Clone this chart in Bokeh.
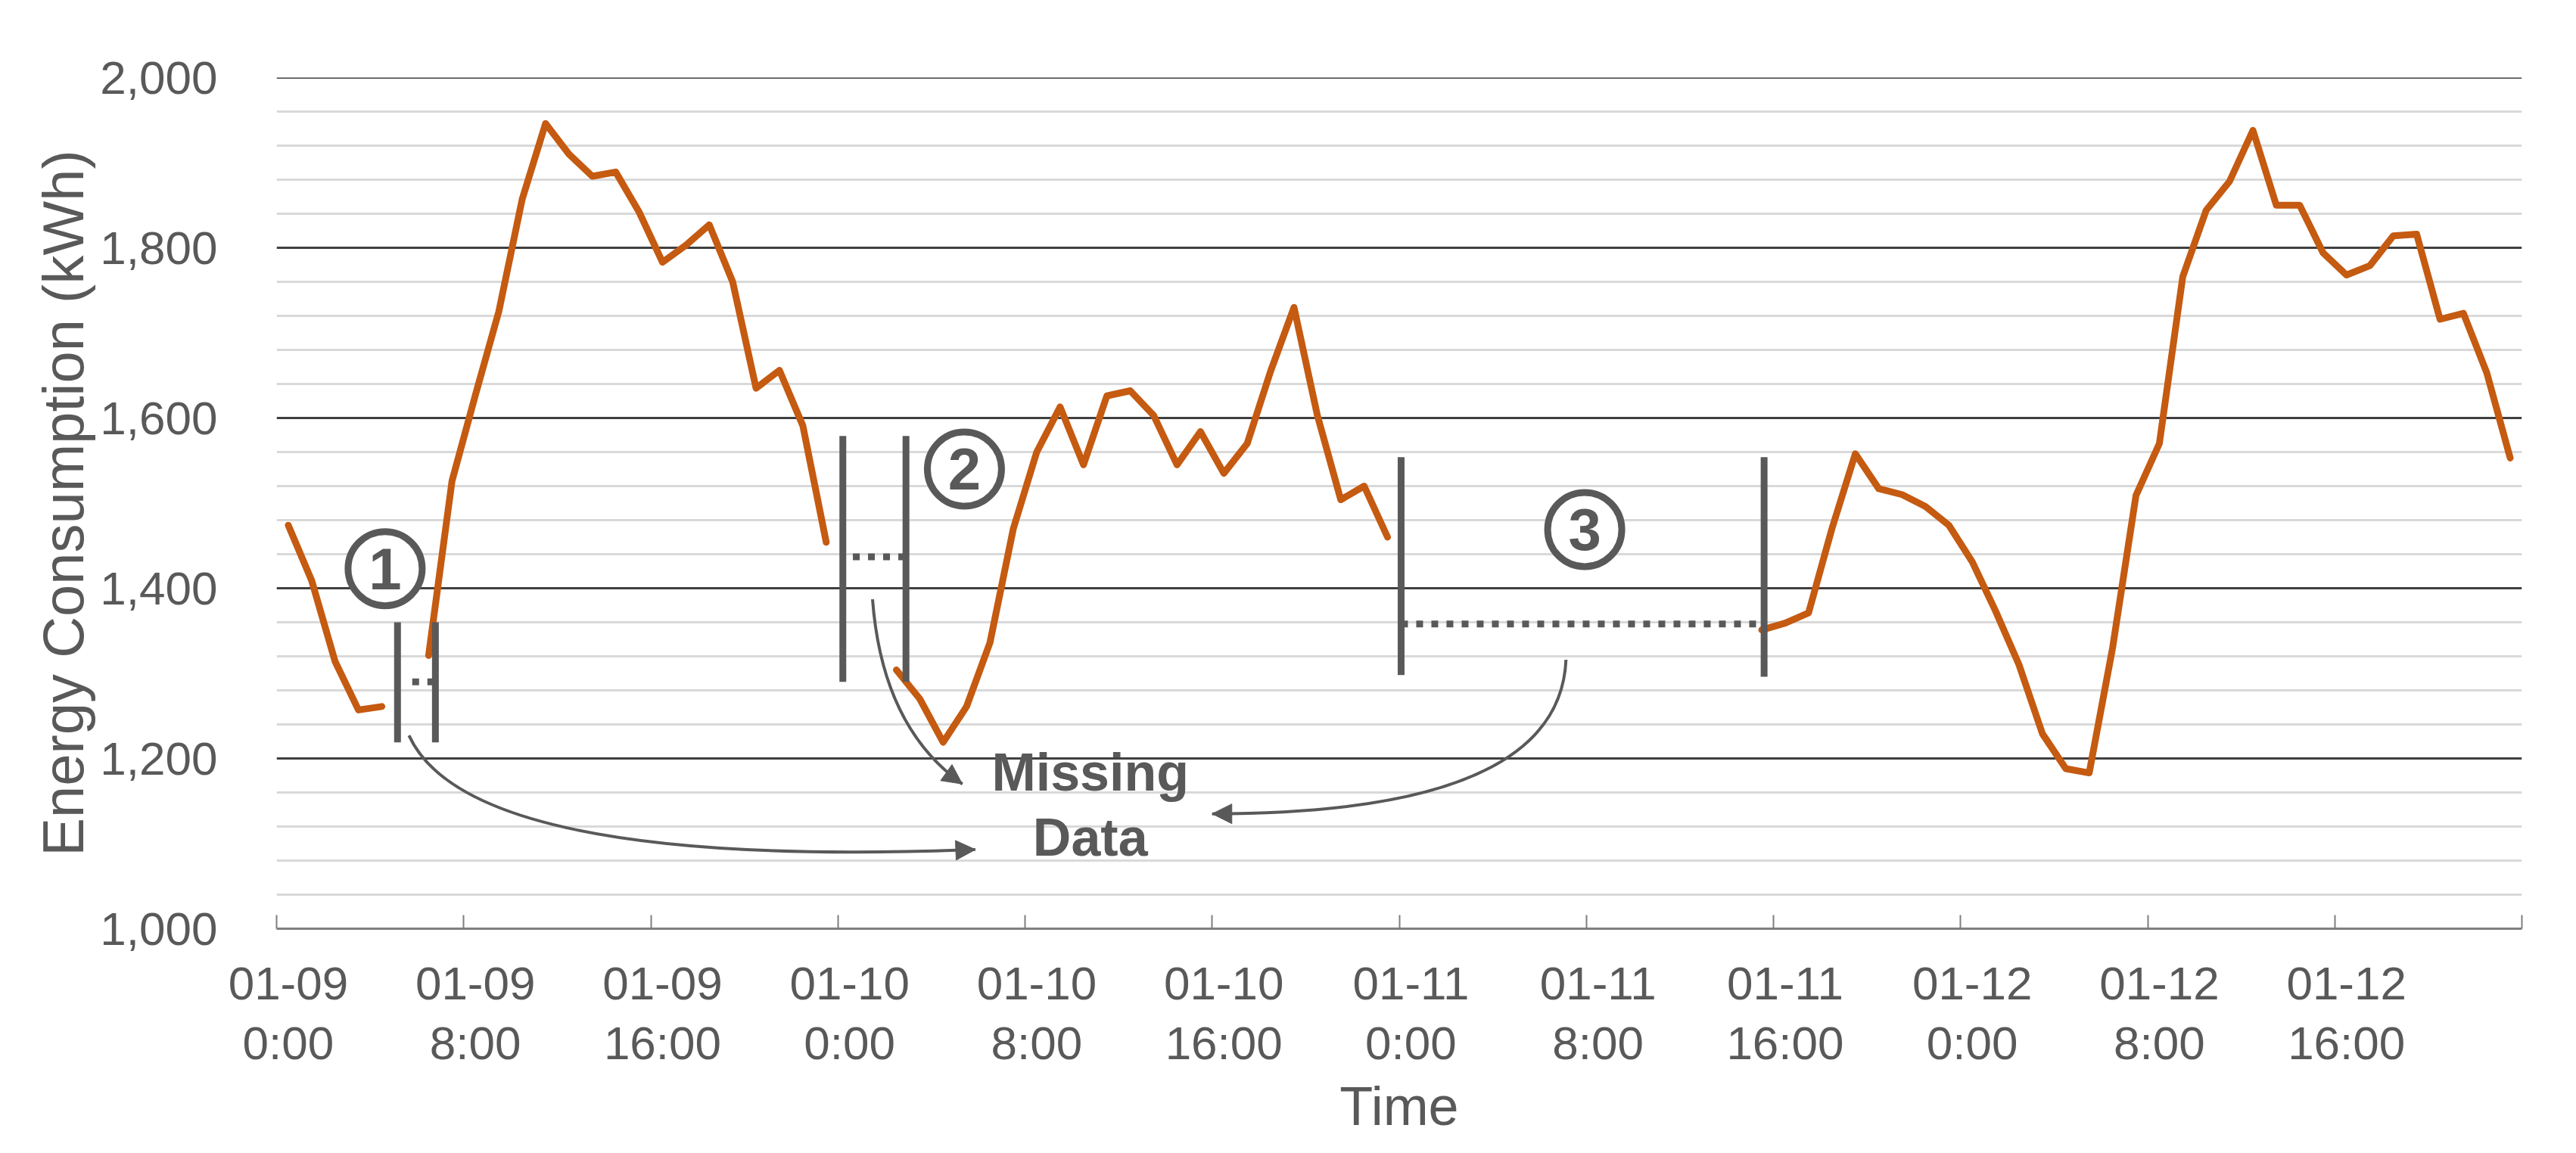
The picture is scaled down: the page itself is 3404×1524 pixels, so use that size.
import numpy as np
from bokeh.plotting import figure
from bokeh.models import Range1d, FixedTicker, NumeralTickFormatter, Arrow, NormalHead, Span
from bokeh.core.properties import value
from bokeh.embed import file_html
from bokeh.resources import INLINE

nan = float("nan")

# ---------------- data (hourly, 01-09 0:00 ... 01-12 23:00) ----------------
energy_kwh = [
    1474, 1409, 1314, 1257, 1261, nan, 1321, 1526,
    1627, 1725, 1857, 1946, 1910, 1884, 1889, 1842,
    1783, 1803, 1827, 1760, 1635, 1656, 1591, 1454,
    nan, nan, 1304, 1270, 1219, 1261, 1336, 1470,
    1560, 1613, 1545, 1626, 1632, 1603, 1545, 1584,
    1535, 1570, 1655, 1730, 1603, 1504, 1520, 1460,
    nan, nan, nan, nan, nan, nan, nan, nan,
    nan, nan, nan, nan, nan, nan, nan, 1351,
    1359, 1371, 1470, 1558, 1517, 1510, 1496, 1474,
    1431, 1373, 1310, 1229, 1188, 1183, 1330, 1509,
    1570, 1766, 1844, 1878, 1938, 1850, 1850, 1794,
    1768, 1779, 1814, 1816, 1716, 1723, 1653, 1553,
]
tick_labels = [
    "01-09\n0:00", "01-09\n8:00", "01-09\n16:00",
    "01-10\n0:00", "01-10\n8:00", "01-10\n16:00",
    "01-11\n0:00", "01-11\n8:00", "01-11\n16:00",
    "01-12\n0:00", "01-12\n8:00", "01-12\n16:00",
]
y_major = [1000, 1200, 1400, 1600, 1800, 2000]

# ---------------- annotations (data units) ----------------
gap_bar_x = [5.17, 6.79, 24.21, 26.91, 48.08, 63.6]
gap_bar_lo = [1219, 1219, 1290, 1290, 1298, 1296]
gap_bar_hi = [1360, 1360, 1579, 1579, 1554, 1554]
gap_fill_x0 = [5.80, 24.64, 48.08]
gap_fill_x1 = [6.79, 26.91, 63.6]
gap_fill_y = [1290, 1437, 1358]
badge_x = [4.64, 29.41, 55.93]
badge_y = [1423, 1540, 1469]
badge_text = ["1", "2", "3"]
arrow_x0 = [5.66, 25.48, 55.13]
arrow_y0 = [1227, 1387, 1316]
arrow_cx = [8.26, 25.89, 54.85]
arrow_cy = [1070, 1237, 1135]
arrow_x1 = [29.88, 29.32, 40.0]
arrow_y1 = [1093, 1170, 1135]
note_x = [34.79, 34.79]
note_y = [1184, 1107]
note_text = ["Missing", "Data"]

GRAY = "#595959"
ORANGE = "#C55A11"
FONT = "Liberation Sans"

n = len(energy_kwh)
hours = np.arange(n) + 0.5
label_pos = [i * 8 + 0.5 for i in range(len(tick_labels))]
bound_pos = [i * 8 for i in range(n // 8 + 1)]
y_minor = [v for v in range(1000, 2001, 40) if v % 200]

p = figure(width=3404, height=1524, x_range=Range1d(0, n), y_range=Range1d(1000, 2000),
           output_backend="svg", toolbar_location=None,
           min_border_left=365, min_border_right=72, min_border_top=102, min_border_bottom=297)
p.outline_line_color = None
p.background_fill_color = "white"
p.border_fill_color = "white"

# y axis
yt = FixedTicker(ticks=y_major, minor_ticks=y_minor)
p.yaxis.ticker = yt
p.ygrid.ticker = yt
p.yaxis.formatter = NumeralTickFormatter(format="0,0")
p.yaxis.axis_line_color = None
p.yaxis.major_tick_line_color = None
p.yaxis.minor_tick_line_color = None
p.yaxis.major_label_text_font = FONT
p.yaxis.major_label_text_font_size = "62px"
p.yaxis.major_label_text_color = GRAY
p.yaxis.major_label_standoff = 72
p.yaxis.axis_label = "Energy Consumption (kWh)"
p.yaxis.axis_label_text_font = FONT
p.yaxis.axis_label_text_font_size = "76px"
p.yaxis.axis_label_text_font_style = "normal"
p.yaxis.axis_label_text_color = GRAY
p.yaxis.axis_label_standoff = 3
p.ygrid.grid_line_color = "#404040"
p.ygrid.grid_line_width = 3
p.ygrid.minor_grid_line_color = "#d9d9d9"
p.ygrid.minor_grid_line_width = 3
p.add_layout(Span(location=y_major[-1], dimension="width", line_color="#404040", line_width=3))

# x axis
xt = FixedTicker(ticks=label_pos, minor_ticks=bound_pos)
p.xaxis.ticker = xt
p.xaxis.major_label_overrides = {pos: lab for pos, lab in zip(label_pos, tick_labels)}
p.xaxis.major_tick_line_color = None
p.xaxis.minor_tick_in = 18
p.xaxis.minor_tick_out = 0
p.xaxis.minor_tick_line_color = "#7f7f7f"
p.xaxis.minor_tick_line_width = 2
p.xaxis.axis_line_color = "#7f7f7f"
p.xaxis.axis_line_width = 3
p.xaxis.major_label_text_font = FONT
p.xaxis.major_label_text_font_size = "62px"
p.xaxis.major_label_text_line_height = 1.15
p.xaxis.major_label_text_color = GRAY
p.xaxis.major_label_standoff = 31
p.xaxis.axis_label = "Time"
p.xaxis.axis_label_text_font = FONT
p.xaxis.axis_label_text_font_size = "72px"
p.xaxis.axis_label_text_font_style = "normal"
p.xaxis.axis_label_text_color = GRAY
p.xaxis.axis_label_standoff = 6
p.xgrid.grid_line_color = None

# data line
p.line(hours, energy_kwh, line_color=ORANGE, line_width=9, line_join="round", line_cap="round")

# gap markers
p.segment(x0=gap_bar_x, y0=gap_bar_lo, x1=gap_bar_x, y1=gap_bar_hi,
          line_color=GRAY, line_width=9, line_cap="butt")
p.segment(x0=gap_fill_x0, y0=gap_fill_y, x1=gap_fill_x1, y1=gap_fill_y,
          line_color=GRAY, line_width=9, line_dash="9 11", line_cap="butt")

# curved arrows
p.quadratic(x0=arrow_x0, y0=arrow_y0, x1=arrow_x1, y1=arrow_y1, cx=arrow_cx, cy=arrow_cy,
            line_color=GRAY, line_width=4)
for x1, y1, cx, cy in zip(arrow_x1, arrow_y1, arrow_cx, arrow_cy):
    xs = x1 - 0.03 * (x1 - cx)
    ys = y1 - 0.03 * (y1 - cy)
    p.add_layout(Arrow(end=NormalHead(size=26, fill_color=GRAY, line_color=GRAY, line_width=1),
                       x_start=xs, y_start=ys, x_end=x1, y_end=y1,
                       line_color=GRAY, line_width=4))

# numbered badges
p.scatter(badge_x, badge_y, marker="circle", size=98, fill_color="white",
          line_color=GRAY, line_width=9)
p.text(badge_x, badge_y, text=badge_text, text_font=value(FONT), text_font_style="bold",
       text_font_size="78px", text_color=GRAY, text_align="center", text_baseline="middle")

# note
p.text(note_x, note_y, text=note_text, text_font=value(FONT), text_font_style="bold",
       text_font_size="70px", text_color=GRAY, text_align="center", text_baseline="middle")

open("out.html", "w").write(file_html(p, INLINE))
